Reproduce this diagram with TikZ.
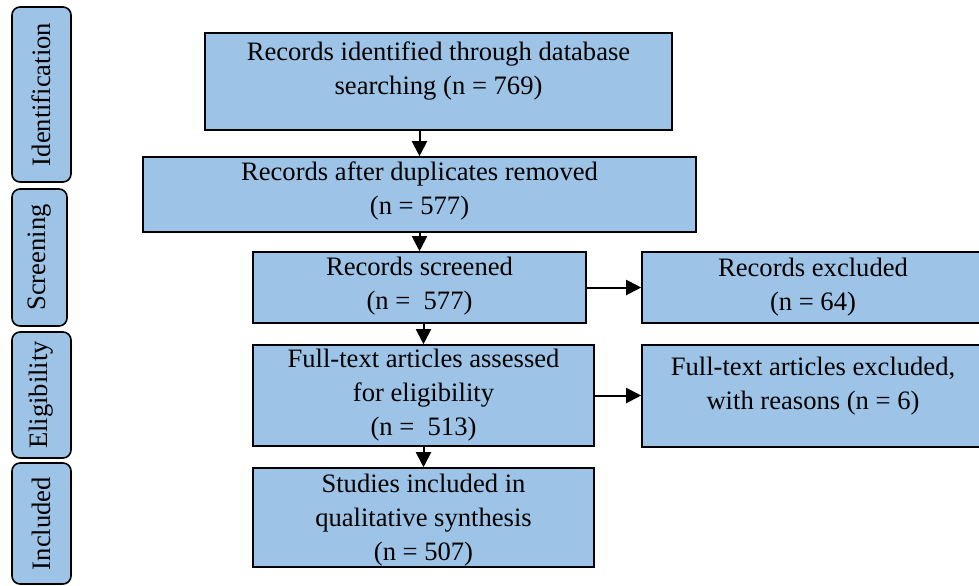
\documentclass[tikz,border=0pt]{standalone}
\usepackage{fontspec}
\setmainfont{Liberation Serif}
\definecolor{PRISMAblue}{HTML}{9DC3E6}
\usetikzlibrary{arrows.meta, calc, positioning}

\begin{document}
\begin{tikzpicture}[x=0.5pt, y=-0.5pt,
      font=\fontsize{13.3}{17}\selectfont,
      box/.style={draw, fill=PRISMAblue, line width=0.8pt, inner sep=0pt},
      stage/.style={box, rounded corners=4pt, rotate=90},
      txt/.style={align=center, inner sep=0pt},
      arr/.style={-{Triangle[length=7.5pt, width=7.5pt]}, line width=1pt}]
   \useasboundingbox (0,0) rectangle (979,585);
   % Stage labels on the left
   \node[stage, minimum width=87.5pt, minimum height=29.5pt] (sIdent) at (41.5,94.5) {Identification};
   \node[stage, minimum width=68.5pt, minimum height=27.5pt] (sScreen) at (39.5,257.5) {Screening};
   \node[stage, minimum width=63pt, minimum height=29.5pt] (sElig) at (41.5,395) {Eligibility};
   \node[stage, minimum width=60.5pt, minimum height=29.5pt] (sIncl) at (41.5,523.5) {Included};
   % Identification
   \node[box, minimum width=233.5pt, minimum height=48.5pt] (ident) at (438.5,81.5) {};
   \node[txt] (identT) at (438.5,70.5) {Records identified through database\\searching (n = 769)};
   % Duplicates removed
   \node[box, minimum width=276.5pt, minimum height=37.5pt] (dup) at (419.5,194.5) {};
   \node[txt] (dupT) at (419.5,190.5) {Records after duplicates removed\\(n = 577)};
   % Screening
   \node[box, minimum width=166.5pt, minimum height=35.5pt] (screen) at (419.5,287.5) {};
   \node[txt] (screenT) at (419.5,286.5) {Records screened\\(n =\ \ 577)};
   \node[box, minimum width=171pt, minimum height=35.5pt] (excl) at (813,287.5) {};
   \node[txt] (exclT) at (813,287) {Records excluded\\(n = 64)};
   % Eligibility
   \node[box, minimum width=170.5pt, minimum height=50.5pt] (full) at (423.5,395.5) {};
   \node[txt] (fullT) at (423.5,395.5) {Full-text articles assessed\\for eligibility\\(n =\ \ 513)};
   \node[box, minimum width=171pt, minimum height=51pt] (fullExcl) at (813,396) {};
   \node[txt] (fullExclT) at (813,386.5) {Full-text articles excluded,\\with reasons (n = 6)};
   % Included
   \node[box, minimum width=170.5pt, minimum height=49.5pt] (incl) at (423.5,517.5) {};
   \node[txt] (inclT) at (423.5,520) {Studies included in\\qualitative synthesis\\(n = 507)};
   % Arrows
   \draw[arr] (ident.south -| dup) -- (dup.north);
   \draw[arr] (dup.south) -- (screen.north);
   \draw[arr] (full.north |- screen.south) -- (full.north);
   \draw[arr] (full.south) -- (incl.north);
   \draw[arr] (screen.east) -- (screen.east -| excl.west);
   \draw[arr] (full.east) -- (full.east -| fullExcl.west);
\end{tikzpicture}
\end{document}
